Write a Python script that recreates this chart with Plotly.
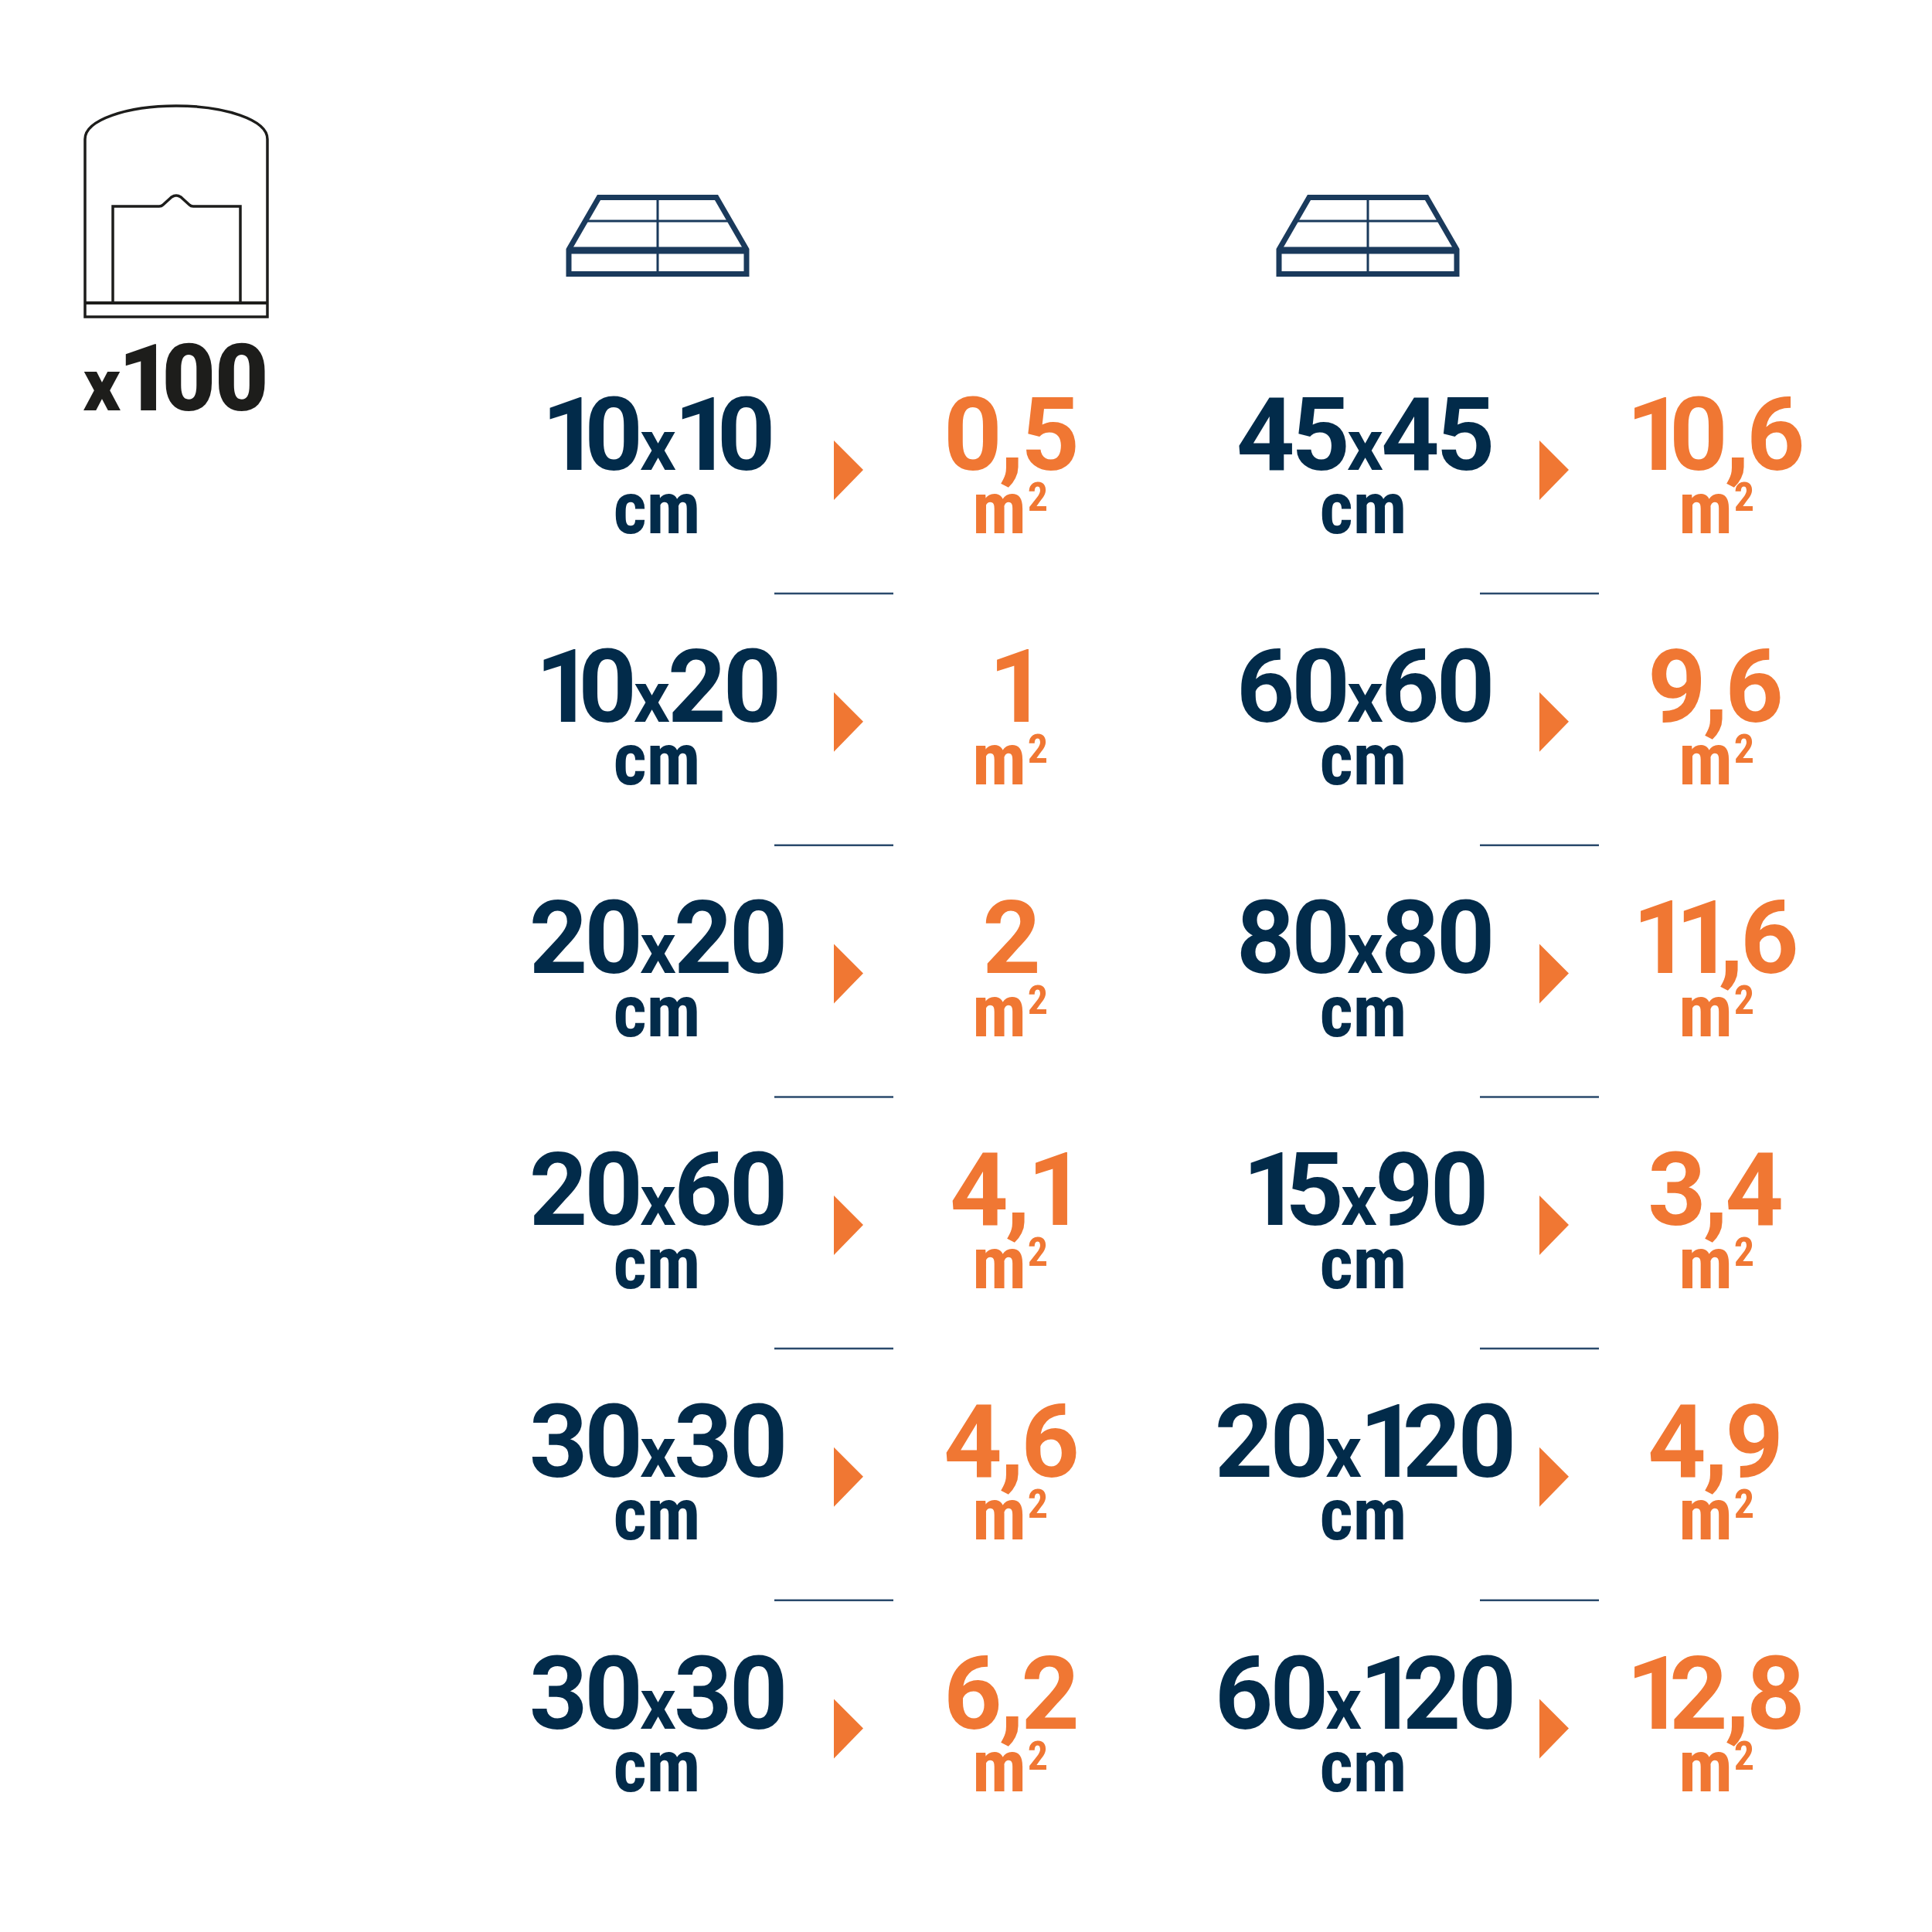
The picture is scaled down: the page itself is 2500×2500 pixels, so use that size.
import plotly.graph_objects as go

# ---- data ----
sizes_left = ["10x10", "10x20", "20x20", "20x60", "30x30", "30x30"]
areas_left = ["0,5", "1", "2", "4,1", "4,6", "6,2"]
sizes_right = ["45x45", "60x60", "80x80", "15x90", "20x120", "60x120"]
areas_right = ["10,6", "9,6", "11,6", "3,4", "4,9", "12,8"]
size_unit = "cm"
area_unit = "m"
area_power = "2"
bag_count = "x100"

NAVY = "#022b4a"
ICON = "#1a3a5c"
ORANGE = "#f07733"
BLACK = "#1d1d1b"
FONT = "Roboto"

ROW0 = 609          # baseline of first row
DY = 325.7
rows = [ROW0 + i * DY for i in range(6)]
COL_SIZE = [850, 1765]
COL_ARROW = [1079, 1992]
COL_AREA = [1307, 2218]
COL_M = [1293, 2207]


def big(s, xsize=92, sp=-4, one=-20, stretch=88):
    out = []
    for ch in s:
        if ch == "x":
            out.append(f'<span style="font-size:{xsize}px;letter-spacing:-3px">x</span>')
        elif ch == "1":
            out.append(f'<span style="letter-spacing:{one}px">1</span>')
        elif ch == ",":
            out.append('<span style="letter-spacing:-4px">,</span>')
        else:
            out.append(f'<span style="letter-spacing:{sp}px">{ch}</span>')
    return f'<span style="font-stretch:{stretch}%">' + "".join(out) + "</span>"


def narrow(s, stretch=75):
    return f'<span style="font-stretch:{stretch}%">{s}</span>'


fig = go.Figure()


def text_trace(xs, ys, texts, size, color, weight=700):
    fig.add_trace(go.Scatter(
        x=xs, y=ys, text=texts, mode="text", textposition="middle center",
        textfont=dict(family=FONT, size=size, color=color, weight=weight),
        hoverinfo="skip", showlegend=False))


# offsets between a text baseline and the middle-centre anchor used by Plotly
OFF_BIG = -34
OFF_UNIT = 57
OFF_SUP = 39

for c, (sizes, areas) in enumerate([(sizes_left, areas_left), (sizes_right, areas_right)]):
    text_trace([COL_SIZE[c]] * 6, [r + OFF_BIG for r in rows], [big(s) for s in sizes], 132, NAVY)
    text_trace([COL_AREA[c]] * 6, [r + OFF_BIG for r in rows], [big(s) for s in areas], 132, ORANGE)
    text_trace([COL_SIZE[0], COL_SIZE[1] - 1][c:c + 1] * 6, [r + OFF_UNIT for r in rows], [narrow(size_unit)] * 6, 94, NAVY)
    text_trace([COL_M[c]] * 6, [r + OFF_UNIT for r in rows], [narrow(area_unit)] * 6, 94, ORANGE)
    text_trace([COL_M[c] + 50] * 6, [r + OFF_SUP for r in rows], [narrow(area_power, 85)] * 6, 52, ORANGE)

text_trace([227], [501], [big(bag_count, xsize=94, sp=-1, one=-13, stretch=100)], 120, BLACK, 900)

shapes = []


def path(d, color, width, fill=None):
    shapes.append(dict(type="path", path=d, xref="x", yref="y", layer="above",
                       line=dict(color=color, width=width),
                       fillcolor=fill if fill else "rgba(0,0,0,0)"))


# arrows and separators
for c in range(2):
    for i, r in enumerate(rows):
        x0 = COL_ARROW[c]
        path(f"M{x0},{r-39} L{x0+38},{r-1} L{x0},{r+38} Z", ORANGE, 0, ORANGE)
        if i < 5:
            sx = x0 - 77
            path(f"M{sx},{r+159} L{sx+154},{r+159}", "#2a4a6c", 2.5)

# bag icon
path("M110,180 C110,155 165,137 228,137 C291,137 346,155 346,180 L346,410 L110,410 Z", BLACK, 3.5)
path("M110,392 L346,392", BLACK, 4)
path("M146,392 L146,267 L206,267 Q209,267 211,265 L222,255 Q228,251 234,255 L245,265 Q247,267 250,267 L311,267 L311,392",
     BLACK, 3.5)

# pallet icons
for cx in (851, 1770):
    path(f"M{cx-115},354.5 L{cx-115},323 L{cx-76},255.5 L{cx+76},255.5 L{cx+115},323 L{cx+115},354.5 Z", ICON, 7)
    path(f"M{cx-115},324 L{cx+115},324", ICON, 9)
    path(f"M{cx-96},286 L{cx+96},286", ICON, 3)
    path(f"M{cx},256 L{cx},354", ICON, 3)

fig.update_layout(
    width=2500, height=2500, margin=dict(l=0, r=0, t=0, b=0),
    paper_bgcolor="white", plot_bgcolor="white", showlegend=False, shapes=shapes,
    xaxis=dict(range=[0, 2500], visible=False, fixedrange=True),
    yaxis=dict(range=[2500, 0], visible=False, fixedrange=True),
)
fig.write_html("out.html", config={"displayModeBar": False},
               post_script="document.body.style.margin='0';")
